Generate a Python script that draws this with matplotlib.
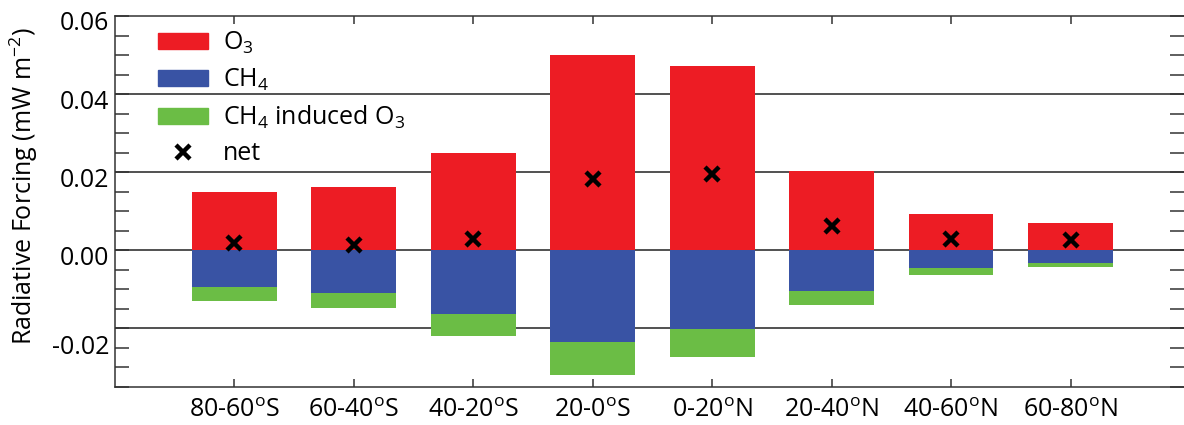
import numpy as np
import matplotlib
matplotlib.use("Agg")
import matplotlib.pyplot as plt
import matplotlib.transforms as mtransforms
from matplotlib.ticker import MultipleLocator
from matplotlib.lines import Line2D
from matplotlib.patches import Patch

plt.rcParams['font.family'] = ['Open Sans', 'DejaVu Sans']
plt.rcParams['mathtext.default'] = 'regular'

# latitude bands
regions = ['80-60$^{o}$S', '60-40$^{o}$S', '40-20$^{o}$S', '20-0$^{o}$S',
           '0-20$^{o}$N', '20-40$^{o}$N', '40-60$^{o}$N', '60-80$^{o}$N']

# radiative forcing, mW m-2
o3 = [0.0149, 0.0162, 0.0249, 0.0501, 0.0471, 0.0203, 0.0092, 0.0070]
ch4 = [-0.0095, -0.0109, -0.0162, -0.0234, -0.0201, -0.0103, -0.0046, -0.0033]
ch4_o3 = [-0.0034, -0.0039, -0.0057, -0.0086, -0.0072, -0.0038, -0.0017, -0.0010]
net = [0.0019, 0.0013, 0.0030, 0.0182, 0.0195, 0.0062, 0.0030, 0.0026]

ytick_vals = [0.06, 0.04, 0.02, 0.00, -0.02]
ytick_labels = ['0.06', '0.04', '0.02', '0.00', '-0.02']
hlines = [0.04, 0.02, 0.00, -0.02]

red = '#ED1C24'
blue = '#3953A4'
green = '#6BBD45'
fs = 18

fig = plt.figure(figsize=(11.84, 4.25), dpi=100)
ax = fig.add_axes([115 / 1184, 38 / 425, 1069 / 1184, 371 / 425])

x = np.arange(len(regions))
w = 0.71

for v in hlines:
    ax.axhline(v, color='#222222', lw=1.1, zorder=0.5)

ax.bar(x, o3, w, color=red, zorder=2)
ax.bar(x, ch4, w, color=blue, zorder=2)
ax.bar(x, ch4_o3, w, bottom=ch4, color=green, zorder=2)
ax.plot(x, net, 'x', color='black', ms=10, mew=3.2, zorder=3, linestyle='none')

ax.set_xlim(-1, 7.95)
ax.set_ylim(-0.035, 0.06)

ax.set_xticks(x)
ax.set_xticklabels(regions, fontsize=fs)
ax.set_yticks(ytick_vals)
ax.set_yticklabels(ytick_labels, fontsize=fs)
ax.yaxis.set_minor_locator(MultipleLocator(0.005))

ax.tick_params(axis='x', direction='in', length=6, width=1.1, top=True, pad=8, color='#333333')
ax.tick_params(axis='y', which='both', direction='in', length=10, width=1.1, left=True, right=True,
               pad=4, color='#333333')

# labels sit a little low in the original, the lowest one even more
for lab in ax.get_yticklabels():
    dy = 16 if lab.get_text() == '-0.02' else 5
    shift = mtransforms.ScaledTranslation(0, -dy / 100, fig.dpi_scale_trans)
    lab.set_transform(lab.get_transform() + shift)

for s in ['left', 'bottom', 'top']:
    ax.spines[s].set_linewidth(1.1)
    ax.spines[s].set_color('#333333')
ax.spines['right'].set_visible(False)

ax.set_ylabel('Radiative Forcing (mW m$^{-2}$)', fontsize=fs)
ax.yaxis.set_label_coords(-0.070, 0.542)

handles = [Patch(color=red), Patch(color=blue), Patch(color=green),
           Line2D([], [], marker='x', color='black', ms=10, mew=3.2, linestyle='none')]
labels = ['O$_3$', 'CH$_4$', 'CH$_4$ induced O$_3$', 'net']
ax.legend(handles, labels, loc='upper left', bbox_to_anchor=(0.040, 0.962), frameon=False,
          fontsize=fs, borderpad=0, borderaxespad=0, handlelength=2.0, handleheight=0.6,
          handletextpad=0.6, labelspacing=0.42)

fig.savefig('out.png', dpi=100)
